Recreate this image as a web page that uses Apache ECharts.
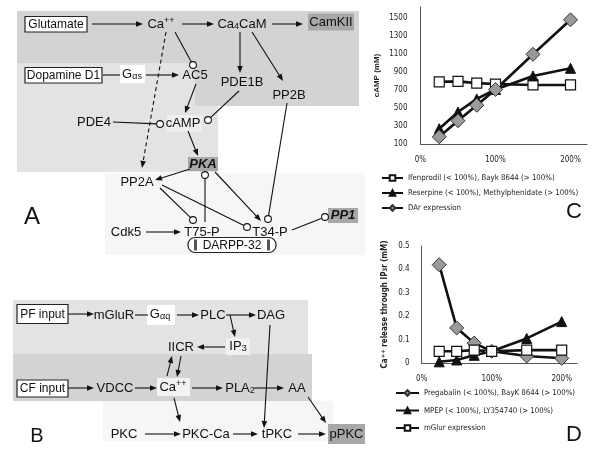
<!DOCTYPE html>
<html><head><meta charset="utf-8">
<script src="https://cdn.jsdelivr.net/npm/echarts@6/dist/echarts.min.js"></script>
<style>html,body{margin:0;padding:0;background:#fff}#c{width:600px;height:456px}</style>
</head><body><div id="c"></div>
<script>
// ---------- DATA ----------
const xPct = [25, 50, 75, 100, 150, 200];
const xTicks = ['0%', '100%', '200%'];
const cNames = ['Ifenprodil (< 100%), Bayk 8644 (> 100%)', 'Reserpine (< 100%), Methylphenidate (> 100%)', 'DAr expression'];
const cIfenprodil = [790, 795, 775, 765, 755, 755];
const cReserpine = [270, 455, 600, 705, 855, 940];
const cDAr = [180, 358, 530, 705, 1095, 1478];
const cTicks = [100, 300, 500, 700, 900, 1100, 1300, 1500];
const dNames = ['Pregabalin (< 100%), BayK 8644 (> 100%)', 'MPEP (< 100%), LY354740 (> 100%)', 'mGlur expression'];
const dPregabalin = [0.42, 0.15, 0.085, 0.05, 0.03, 0.02];
const dMPEP = [0.005, 0.013, 0.033, 0.05, 0.105, 0.177];
const dMGlur = [0.05, 0.05, 0.055, 0.05, 0.055, 0.055];
const dTicks = [0, 0.1, 0.2, 0.3, 0.4, 0.5];

// ---------- diagram helpers ----------
const DF = '"Liberation Sans", Arial, sans-serif';
const CF = '"DejaVu Sans Condensed", "Liberation Sans Narrow", sans-serif';
const G = [];
const rich = {
  sup: {fontSize: 9, fontFamily: DF, verticalAlign: 'top', lineHeight: 15, fill: '#111'},
  sub: {fontSize: 9, fontFamily: DF, verticalAlign: 'bottom', lineHeight: 15, padding: [4, 0, 0, 0], fill: '#111'},
  n: {fontSize: 13, fontFamily: DF, lineHeight: 15, fill: '#111'}
};
function rect(x, y, w, h, fill, stroke, r) {
  G.push({type: 'rect', shape: {x, y, width: w, height: h, r: r || 0}, style: {fill: fill || 'none', stroke: stroke || null, lineWidth: 1.2}, silent: true});
}
function txt(x, y, t, o) {
  o = o || {};
  G.push({type: 'text', z: 10, style: {text: t, x, y, align: 'center', verticalAlign: 'middle',
    fontSize: o.size || 13, fontFamily: o.family || DF, fontWeight: o.weight || 'normal', fontStyle: o.style || 'normal',
    fill: '#111', rich: o.rich ? rich : undefined}, silent: true});
}
function rt(x, y, t) { txt(x, y, t, {rich: true}); }
function line(x1, y1, x2, y2, dash) {
  G.push({type: 'line', z: 5, shape: {x1, y1, x2, y2}, style: {stroke: '#111', lineWidth: 1.1, lineDash: dash ? [4, 3] : null}, silent: true});
}
function arrow(x1, y1, x2, y2, dash) {
  const L = Math.hypot(x2 - x1, y2 - y1), ux = (x2 - x1) / L, uy = (y2 - y1) / L;
  const hl = 7, hw = 2.8, bx = x2 - ux * hl, by = y2 - uy * hl;
  line(x1, y1, bx + ux, by + uy, dash);
  G.push({type: 'polygon', z: 6, shape: {points: [[x2, y2], [bx - uy * hw, by + ux * hw], [bx + uy * hw, by - ux * hw]]}, style: {fill: '#111'}, silent: true});
}
function circ(x1, y1, x2, y2) {
  const r = 3.4, L = Math.hypot(x2 - x1, y2 - y1), ux = (x2 - x1) / L, uy = (y2 - y1) / L;
  line(x1, y1, x2 - ux * r, y2 - uy * r);
  G.push({type: 'circle', z: 6, shape: {cx: x2, cy: y2, r}, style: {fill: '#fff', stroke: '#111', lineWidth: 1.1}, silent: true});
}
const BX = {size: 12};

// ---------- Diagram A ----------
rect(17, 63, 201, 109, '#e3e3e3');
rect(17, 11, 342, 52, '#d3d3d3');
rect(195, 63, 164, 43, '#d3d3d3');
rect(105, 173, 260, 82, '#f6f6f6');
rect(25, 16.5, 62, 15.5, '#fff', '#222'); txt(56, 24.5, 'Glutamate', BX);
arrow(92, 24, 143, 24);
rt(161, 24, '{n|Ca}{sup|++}');
arrow(182, 24, 214, 24);
rt(242, 24, '{n|Ca}{sub|4}{n|CaM}');
arrow(272, 24, 303, 24);
rect(308, 13.5, 46, 17, '#a8a8a8'); txt(331, 22.5, 'CamKII');
arrow(166, 32, 142, 168, true);
circ(175, 32, 193, 65);
rect(25, 67.5, 77, 15.5, '#fff', '#222'); txt(63.5, 75.5, 'Dopamine D1', BX);
line(103, 75, 120, 75);
rect(120, 65, 25, 18, '#fff'); rt(132, 74, '{n|G}{sub|αs}');
arrow(146, 75, 179, 75);
txt(195, 75, 'AC5');
arrow(196, 84, 185, 113);
txt(242, 82, 'PDE1B');
arrow(240, 32, 240, 73);
txt(289, 95, 'PP2B');
arrow(252, 32, 283, 81);
circ(239, 91, 208, 120);
rect(167, 115, 35, 17, '#efefef');
txt(183, 123, 'cAMP');
txt(94, 122, 'PDE4');
circ(113, 122, 160, 124);
arrow(188, 131, 198, 156);
rect(188, 157, 30, 14, '#a8a8a8'); txt(203, 164, 'PKA', {weight: 'bold', style: 'italic'});
txt(137, 182, 'PP2A');
arrow(190, 169, 155, 180);
circ(205, 222, 205, 175);
arrow(215, 172, 261, 221);
circ(160, 188, 193, 220);
circ(162, 185, 247, 227);
circ(287, 103, 268, 219);
txt(126, 232, 'Cdk5');
arrow(146, 232, 181, 232);
txt(202, 232, 'T75-P');
txt(270, 232, 'T34-P');
circ(292, 230, 325, 217);
rect(328, 208, 30, 15, '#a8a8a8'); txt(343, 215.5, 'PP1', {weight: 'bold', style: 'italic'});
rect(188, 237.5, 88, 15, '#fff', '#222', 7);
rect(194, 239.5, 3, 11, '#555'); rect(267, 239.5, 3, 11, '#555');
txt(232, 245.5, 'DARPP-32', BX);
txt(32, 217, 'A', {size: 24});

// ---------- Diagram B ----------
rect(13, 300, 295, 54, '#e3e3e3');
rect(13, 354, 299, 47, '#d3d3d3');
rect(103, 401, 230, 40, '#f6f6f6');
rect(17, 304.5, 51, 19, '#fff', '#222'); txt(42.5, 314.5, 'PF input', BX);
arrow(68, 314, 94, 314);
txt(114, 315, 'mGluR');
line(135, 315, 148, 315);
rect(147, 305, 28, 20, '#fff'); rt(160, 314, '{n|G}{sub|αq}');
arrow(177, 315, 199, 315);
txt(213, 315, 'PLC');
arrow(226, 315, 256, 315);
arrow(230, 315, 235, 337);
txt(271, 315, 'DAG');
rect(226, 338, 24, 17, '#f1f1f1'); rt(238, 346, '{n|IP}{sub|3}');
arrow(225, 347, 197, 347);
txt(181, 347, 'IICR');
arrow(167, 376, 172, 356);
arrow(181, 356, 177, 377);
rect(17, 380, 51, 17, '#fff', '#222'); txt(42.5, 388.5, 'CF input', BX);
arrow(68, 388, 94, 388);
txt(115, 388, 'VDCC');
arrow(135, 388, 157, 388);
rect(157, 378, 33, 18, '#f3f3f3'); rt(173, 387, '{n|Ca}{sup|++}');
arrow(192, 388, 223, 388);
rt(240, 388, '{n|PLA}{sub|2}');
arrow(254, 388, 284, 388);
txt(297, 388, 'AA');
arrow(270, 325, 264, 428);
arrow(174, 398, 180, 422);
txt(124, 434, 'PKC');
arrow(145, 434, 181, 434);
txt(206, 434, 'PKC-Ca');
arrow(233, 434, 258, 434);
txt(277, 434, 'tPKC');
arrow(298, 434, 326, 434);
rect(328, 424, 37, 20, '#a8a8a8'); txt(346.5, 434, 'pPKC');
arrow(308, 397, 326, 423);
txt(37, 436, 'B', {size: 20});
txt(574, 212, 'C', {size: 22});
txt(574, 435, 'D', {size: 22});

// ---------- charts ----------
const pairs = a => xPct.map((x, i) => [x, a[i]]);
const axisLine = {show: true, lineStyle: {color: '#555', width: 1}};
const lab = {fontSize: 8, fontFamily: CF, color: '#222'};
function xAx(gi, margin) {
  return {gridIndex: gi, type: 'value', min: 0, max: 222, interval: 100, axisLine, axisTick: {show: false}, splitLine: {show: false},
    axisLabel: Object.assign({}, lab, {margin, showMaxLabel: false, formatter: v => xTicks[v / 100] || ''})};
}
const sq = {symbol: 'rect', symbolSize: 10, itemStyle: {color: '#fff', borderColor: '#111', borderWidth: 1.2}};
const tri = {symbol: 'triangle', symbolSize: 10, itemStyle: {color: '#111', borderColor: '#111', borderWidth: 1}};
const dia = {symbol: 'diamond', symbolSize: 14, itemStyle: {color: '#9a9a9a', borderColor: '#333', borderWidth: 1}};
function ser(name, data, xi, mk) {
  return Object.assign({type: 'line', name, data, xAxisIndex: xi, yAxisIndex: xi, showSymbol: true, animation: false,
    lineStyle: {color: '#111', width: 2.6}}, JSON.parse(JSON.stringify(mk)));
}
const legText = {fontSize: 7.8, fontFamily: CF, color: '#222', lineHeight: 10};
const option = {
  animation: false,
  graphic: G,
  grid: [
    {left: 420.5, top: 7, width: 166.5, height: 137},
    {left: 421.7, top: 246, width: 155.4, height: 117}
  ],
  xAxis: [xAx(0, 12), xAx(1, 12)],
  yAxis: [
    {gridIndex: 0, type: 'value', min: 100, max: 1620, interval: 200, axisLine, axisTick: {show: false}, splitLine: {show: false},
      axisLabel: Object.assign({}, lab, {margin: 13, showMaxLabel: false, formatter: v => cTicks.includes(v) ? String(v) : ''}),
      name: 'cAMP (mM)', nameLocation: 'middle', nameRotate: 90, nameGap: 40,
      nameTextStyle: {fontSize: 8, fontWeight: 'bold', fontFamily: DF, color: '#222'}},
    {gridIndex: 1, type: 'value', min: 0, max: 0.5, interval: 0.1, axisLine, axisTick: {show: false}, splitLine: {show: false},
      axisLabel: Object.assign({}, lab, {margin: 12, formatter: v => String(dTicks.find(t => Math.abs(t - v) < 1e-6))}),
      name: 'Ca{s|++} release through IP{b|3}r (mM)', nameLocation: 'middle', nameRotate: 90, nameGap: 33,
      nameTextStyle: {fontSize: 8, fontWeight: 'bold', fontFamily: CF, color: '#222',
        rich: {s: {fontSize: 6, fontWeight: 'bold', verticalAlign: 'top'}, b: {fontSize: 6, fontWeight: 'bold', verticalAlign: 'bottom'}}}}
  ],
  legend: [
    {data: cNames, orient: 'vertical', left: 381, top: 173, padding: 0, itemGap: 5, itemWidth: 21, itemHeight: 7, textStyle: legText},
    {data: dNames, orient: 'vertical', left: 395, top: 388, padding: 0, itemGap: 7.5, itemWidth: 23, itemHeight: 7, textStyle: legText}
  ],
  series: [
    ser(cNames[0], pairs(cIfenprodil), 0, sq),
    ser(cNames[1], pairs(cReserpine), 0, tri),
    ser(cNames[2], pairs(cDAr), 0, dia),
    ser(dNames[0], pairs(dPregabalin), 1, dia),
    ser(dNames[1], pairs(dMPEP), 1, tri),
    ser(dNames[2], pairs(dMGlur), 1, sq)
  ]
};
const chart = echarts.init(document.getElementById('c'), null, {renderer: 'canvas'});
chart.setOption(option);
</script></body></html>
